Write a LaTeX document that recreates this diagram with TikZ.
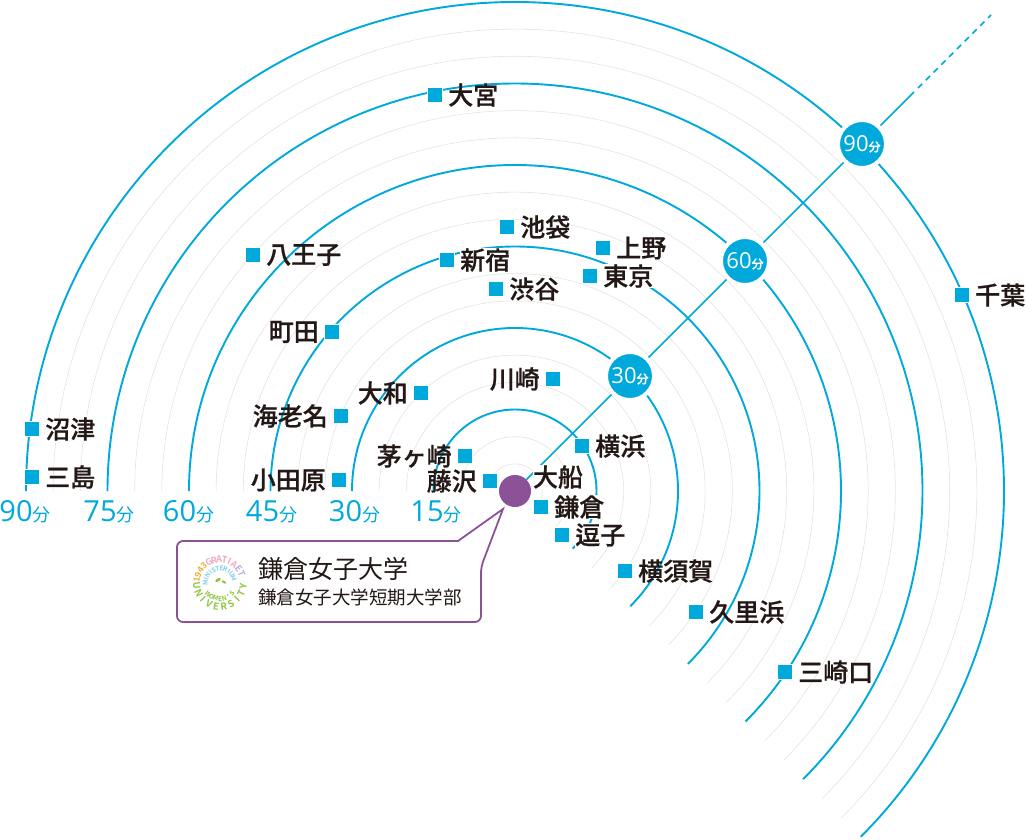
\documentclass[tikz,border=0pt]{standalone}
\usepackage{fontspec}
\usetikzlibrary{positioning}
\setmainfont{Noto Sans CJK JP}[BoldFont={Noto Sans CJK JP Medium},BoldFeatures={FakeBold=0.7}]
\newfontfamily\numfont{Open Sans}
\newfontfamily\logofont{Noto Sans CJK JP Bold}
\definecolor{lineblue}{RGB}{0,169,220}
\definecolor{ringgray}{RGB}{226,226,226}
\definecolor{campus}{RGB}{139,82,152}
\definecolor{ink}{RGB}{35,24,21}
\definecolor{logogreen}{RGB}{140,198,63}
\definecolor{logopink}{RGB}{244,170,190}
\definecolor{logoorange}{RGB}{245,170,50}
\definecolor{logoblue}{RGB}{130,205,235}
\definecolor{logolilac}{RGB}{195,170,220}
\tikzset{%
  stsquare/.style={draw=white, line width=0.6pt, fill=lineblue, minimum size=15.5pt, inner sep=0pt},% station square
  stname/.style={text=ink, font=\fontsize{25}{25}\selectfont\bfseries, inner sep=0pt},% station name
  halo/.style={fill=white},% name that hides the line below it
  badge/.style={circle, draw=white, line width=4pt, fill=lineblue, minimum size=48pt, inner sep=0pt, text=white},
  mins/.style={text=lineblue, inner sep=0pt}
}
\newcommand*{\fun}[1]{{\numfont\fontsize{29}{29}\selectfont #1}\fontsize{18}{18}\selectfont 分}
\newcommand*{\badgefun}[1]{{\numfont\fontsize{22}{22}\selectfont #1}\fontsize{12}{12}\selectfont\bfseries 分}
% id, letters, radius, first angle, step, colour, size
\newcommand*{\ringtext}[7]{
  \foreach \l [count=\i] in {#2}{
    \pgfmathsetmacro{\a}{#4+(\i-1)*#5}
    \node[rotate=\a-90*sign(-#5), inner sep=0pt, text=#6, font=\logofont\fontsize{#7}{#7}\selectfont]
      (#1\i) at ([shift=(\a:#3)]logo) {\l};
  }}
\begin{document}
\begin{tikzpicture}[x=1pt,y=1pt]
\useasboundingbox (0,0) rectangle (1026,-840);
\coordinate (c) at (515,-491);

\foreach \r in {1,...,18}
  \draw[ringgray, line width=0.6pt] (c) ++(180:27.17*\r) arc (180:-45:27.17*\r);
\foreach \r in {1,...,6}
  \draw[lineblue, line width=1.9pt] (c) ++(180:81.5*\r) arc (180:-45:81.5*\r);

\coordinate (far) at (991,-15);
\coordinate (solidend) at (914,-92);
\draw[lineblue, line width=1.7pt] (c) -- (solidend);
\draw[lineblue, line width=1.7pt, dash pattern=on 6pt off 5pt] (solidend) ++(4,4) -- (far);

\node[badge] (b30) at (630,-376) {\badgefun{30}};
\node[badge] (b60) at (745,-261) {\badgefun{60}};
\node[badge] (b90) at (862,-144) {\badgefun{90}};

\node[mins] (m90) at (25,-512) {\fun{90}};
\node[mins] (m75) at (109,-512) {\fun{75}};
\node[mins] (m60) at (188.5,-512) {\fun{60}};
\node[mins] (m45) at (271.5,-512) {\fun{45}};
\node[mins] (m30) at (354.5,-512) {\fun{30}};
\node[mins] (m15) at (436,-512) {\fun{15}};

% stations, name to the right
\foreach \id/\x/\y/\txt/\sty in {numazu/32/429/沼津/{}, mishima/32/477/三島/{}, omiya/435/95/大宮/{},
    hachioji/253/255/八王子/{}, shinjuku/447/260/新宿/halo, ikebukuro/507/227/池袋/{},
    shibuya/496/289/渋谷/{}, ueno/603/248/上野/{}, tokyo/590/276/東京/halo, chiba/962/295/千葉/{},
    yokohama/582/446/横浜/{}, kamakura/541/507/鎌倉/halo, zushi/562/535/逗子/halo,
    yokosuka/625/571/横須賀/{}, kurihama/696/612/久里浜/{}, misaki/785/672/三崎口/{}}{
  \node[stsquare] (\id) at (\x,-\y) {};
  \node[stname, \sty, right=5pt of \id] (\id l) {\txt};
}
% stations, name to the left
\foreach \id/\x/\y/\txt in {machida/332/332/町田, ebina/341/416/海老名, odawara/339/480/小田原,
    yamato/421/393/大和, chigasaki/465/456/茅ヶ崎, fujisawa/490/481/藤沢, kawasaki/553/379/川崎}{
  \node[stsquare] (\id) at (\x,-\y) {};
  \node[stname, left=5pt of \id] (\id l) {\txt};
}
\node[stname, halo] (ofuna) at (558,-477) {大船};

\node[circle, fill=campus, minimum size=32pt, inner sep=0pt] (school) at (c) {};
\coordinate (tip) at (503,-509);
\draw[campus, line width=1.8pt, fill=white] (tip) -- (458,-541) [rounded corners=6pt] -- (177,-541)
  -- (177,-622) -- (481,-622) -- (481,-567) [sharp corners] -- cycle;
\node[anchor=west, inner sep=0pt, text=ink, font=\fontsize{25}{25}\selectfont] (univ) at (258,-569) {鎌倉女子大学};
\node[anchor=west, inner sep=0pt, text=ink, font=\fontsize{18.5}{18.5}\selectfont] (coll) at (258,-597) {鎌倉女子大学短期大学部};

% logo
\coordinate (logo) at (220,-583);
\ringtext{year}{1,9,4,3}{23.5}{172}{-13}{logoorange}{8.5}
\ringtext{gra}{G,R,A,T,I,A}{23.5}{118}{-13}{logopink}{9}
\ringtext{et}{E,T}{23.5}{37}{-13}{logolilac}{9}
\ringtext{uni}{U,N,I,V,E,R,S,I,T,Y}{23.5}{187}{18.4}{logogreen}{9.5}
\ringtext{min}{M,I,N,I,S,T,E,R,I,U,M}{14.5}{180}{-16}{logoblue}{6.5}
\ringtext{wom}{W,O,M,E,N,',S}{16}{222}{16}{logogreen}{6.5}
\fill[logogreen, rotate around={30:(218,-580)}] (218,-580) ellipse (3 and 1.5);
\fill[logogreen, rotate around={-30:(224,-582)}] (224,-582) ellipse (2.5 and 1.2);
\end{tikzpicture}
\end{document}
